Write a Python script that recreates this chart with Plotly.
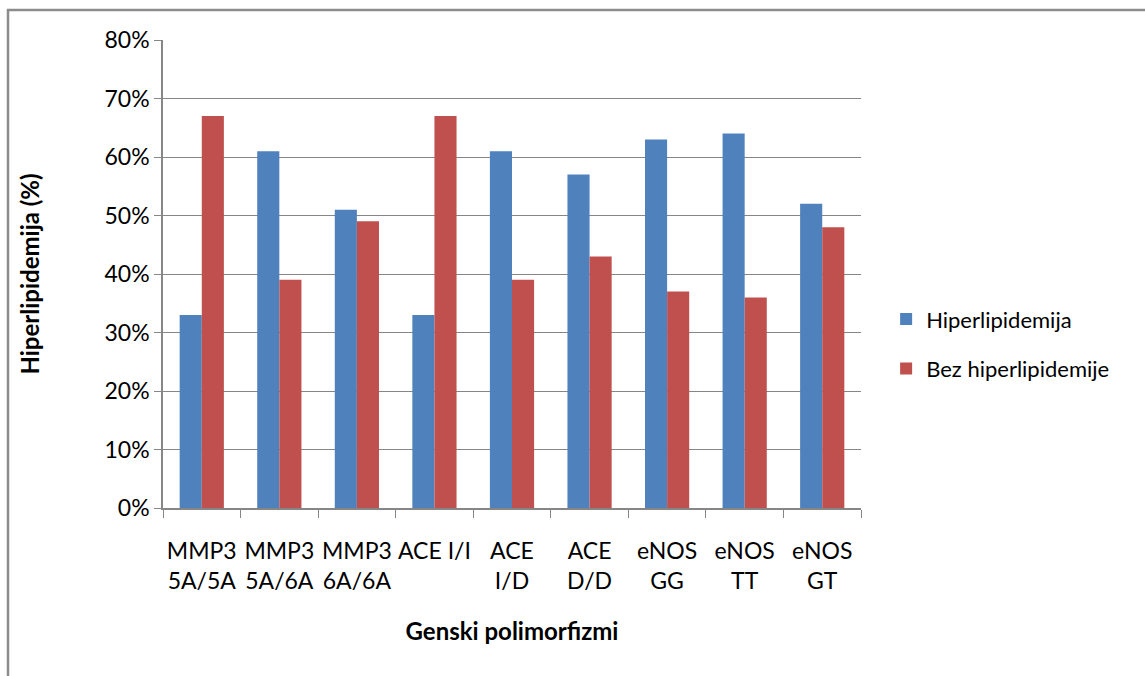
import plotly.graph_objects as go

categories = ["MMP3<br>5A/5A", "MMP3<br>5A/6A", "MMP3<br>6A/6A", "ACE I/I", "ACE<br>I/D",
              "ACE<br>D/D", "eNOS<br>GG", "eNOS<br>TT", "eNOS<br>GT"]
hiperlipidemija = [33, 61, 51, 33, 61, 57, 63, 64, 52]
bez_hiperlipidemije = [67, 39, 49, 67, 39, 43, 37, 36, 48]
y_ticks = [0, 10, 20, 30, 40, 50, 60, 70, 80]
y_tick_labels = [f"{v}%" for v in y_ticks]

FONT = "Lato"
GRAY = "#868686"

fig = go.Figure()
fig.add_trace(go.Bar(x=categories, y=hiperlipidemija, name="Hiperlipidemija",
                     legendgroup="a",
                     marker=dict(color="#4F81BD", line=dict(width=0))))
fig.add_trace(go.Bar(x=categories, y=bez_hiperlipidemije, name="Bez hiperlipidemije",
                     legendgroup="b",
                     marker=dict(color="#C0504D", line=dict(width=0))))

fig.update_layout(
    width=1145, height=676,
    margin=dict(l=163, r=284, t=40, b=168),
    paper_bgcolor="white", plot_bgcolor="white",
    font=dict(family=FONT, size=23, color="black"),
    barmode="group", bargap=0.43, bargroupgap=0,
    showlegend=True,
    legend=dict(x=1.036, y=0.35, xanchor="left", yanchor="middle",
                font=dict(size=22), tracegroupgap=18, itemsizing="constant",
                bgcolor="rgba(0,0,0,0)"),
    xaxis=dict(
        showline=True, linecolor=GRAY, linewidth=1.5,
        ticks="outside", tickson="boundaries", ticklen=8, tickcolor=GRAY,
        showgrid=False, tickfont=dict(size=23), tickangle=0,
        ticklabelstandoff=22,
        title=dict(text="<b>Genski polimorfizmi</b>", font=dict(size=24), standoff=30),
    ),
    yaxis=dict(
        range=[0, 80], tickvals=y_ticks, ticktext=y_tick_labels,
        showline=True, linecolor=GRAY, linewidth=1.5,
        ticks="outside", ticklen=7, tickcolor=GRAY,
        showgrid=True, gridcolor=GRAY, gridwidth=1.2,
        zeroline=False, tickfont=dict(size=23),
        title=dict(text="<b>Hiperlipidemija (%)</b>", font=dict(size=24), standoff=58),
    ),
    shapes=[dict(type="rect", xref="paper", yref="paper",
                 x0=(8 - 163) / 698, x1=(1160 - 163) / 698,
                 y0=(508 - 700) / 468, y1=(508 - 10) / 468,
                 line=dict(color="#8C8C8C", width=2.5), fillcolor="rgba(0,0,0,0)",
                 layer="below")],
)

fig.write_html("out.html")
